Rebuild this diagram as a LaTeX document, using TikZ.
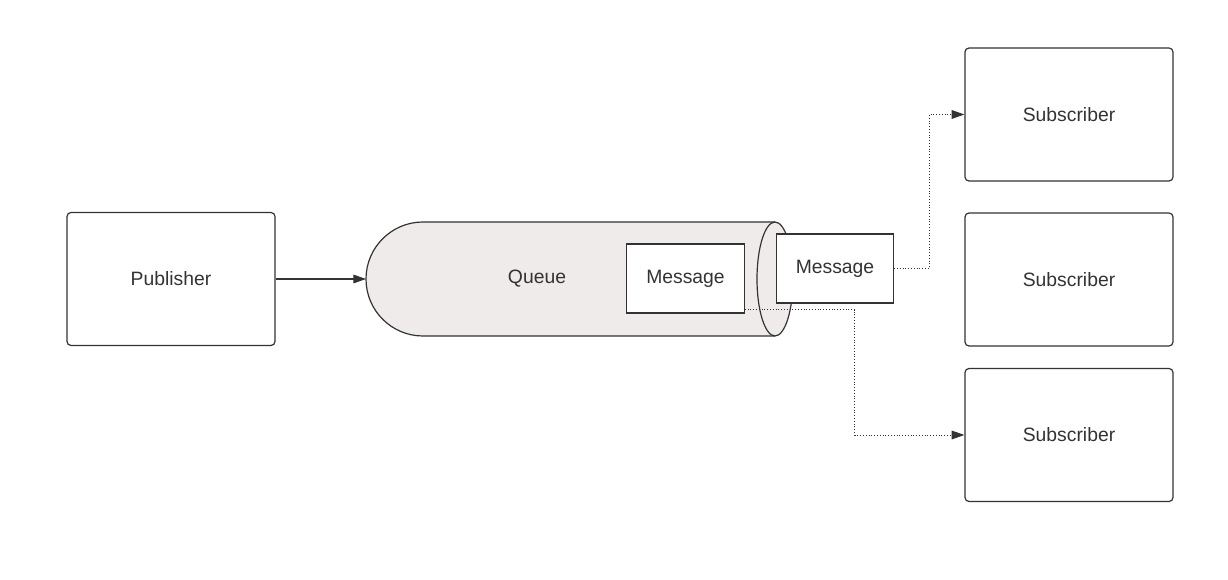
\documentclass[tikz,border=0pt]{standalone}
\usepackage{fontspec}
\setmainfont{Liberation Sans}
\usetikzlibrary{arrows.meta}
\definecolor{ink}{RGB}{51,51,51}
\definecolor{queuefill}{RGB}{239,235,235}
\tikzset{
    box/.style={draw=ink, line width=0.9pt, rounded corners=3pt, text=ink,
        minimum width=156pt, minimum height=99.75pt},
    msgbox/.style={draw=ink, line width=0.9pt, fill=white, text=ink,
        minimum width=88pt, minimum height=51.75pt},
    link/.style={draw=ink, line width=0.8pt, -{Triangle[length=9.5pt,width=6.5pt]}},
    dotlink/.style={draw=ink, line width=0.7pt, dash pattern=on 0.7pt off 1.4pt,
        -{Triangle[length=9.5pt,width=6.5pt]}}
}
\begin{document}
\begin{tikzpicture}[x=0.75pt,y=-0.75pt,font=\fontsize{14.5}{17}\selectfont]
\useasboundingbox (0,0) rectangle (1228,580);
%publisher
\node[box] (pub) at (171,279){Publisher};
%queue
\path[draw=ink, line width=0.9pt, fill=queuefill] (775,222) -- (423,222)
    arc[start angle=90,end angle=270,radius=42.75pt] -- (775,336)
    arc[start angle=-90,end angle=90,x radius=13.5pt,y radius=42.75pt] -- cycle;
\path[draw=ink, line width=0.9pt] (775,222)
    arc[start angle=90,end angle=270,x radius=13.5pt,y radius=42.75pt];
\node[text=ink] (queue) at (537,279){Queue};
\coordinate (qin) at (366,279);
\node[msgbox] (msgin) at (685.5,278.5){Message};
\node[msgbox] (msgout) at (835,268.5){Message};
%subscribers
\foreach \n/\y in {sub1/114.5, sub2/279.5, sub3/435}{
    \node[box] (\n) at (1069,\y){Subscriber};
}
%links
\path[link] (pub.east) -- (qin);
\path[dotlink] (msgout.east) -- ++(35,0) |- (sub1.west);
\path[dotlink] ([yshift=3pt]msgin.south east) -- ++(110,0) |- (sub3.west);
\end{tikzpicture}
\end{document}
